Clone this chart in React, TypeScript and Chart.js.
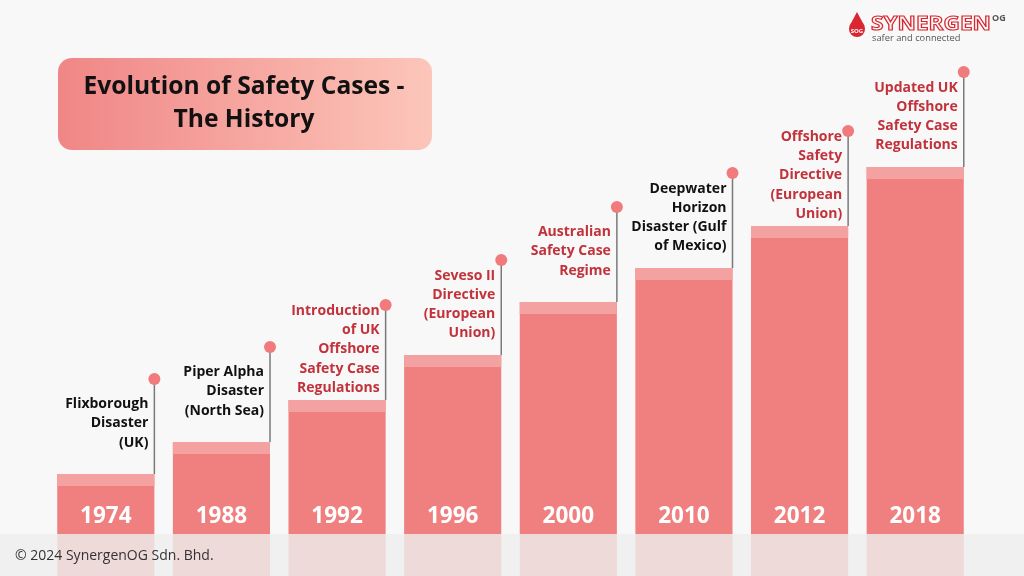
import React, { useEffect, useRef } from "react";
import { Chart, registerables } from "chart.js";

Chart.register(...registerables);

const years = ["1974", "1988", "1992", "1996", "2000", "2010", "2012", "2018"];
const heights = [102, 134, 176, 221, 274, 308, 350, 409];
const eventLines: string[][] = [
  ["Flixborough", "Disaster", "(UK)"],
  ["Piper Alpha", "Disaster", "(North Sea)"],
  ["Introduction", "of UK", "Offshore", "Safety Case", "Regulations"],
  ["Seveso II", "Directive", "(European", "Union)"],
  ["Australian", "Safety Case", "Regime"],
  ["Deepwater", "Horizon", "Disaster (Gulf", "of Mexico)"],
  ["Offshore", "Safety", "Directive", "(European", "Union)"],
  ["Updated UK", "Offshore", "Safety Case", "Regulations"],
];
const eventKinds = ["disaster", "disaster", "regulation", "regulation", "regulation", "disaster", "regulation", "regulation"];
const titleLines = ["Evolution of Safety Cases -", "The History"];
const copyright = "© 2024 SynergenOG Sdn. Bhd.";

const FONT = "'Open Sans', sans-serif";

const decorPlugin = {
  id: "decor",
  beforeDraw(chart: any) {
    const { ctx, width, height } = chart;
    ctx.save();
    ctx.fillStyle = "#f8f8f8";
    ctx.fillRect(0, 0, width, height);
    // title box
    const bx = 58, by = 58, bw = 374, bh = 92, r = 14;
    const g = ctx.createLinearGradient(bx, 0, bx + bw, 0);
    g.addColorStop(0, "#f08686");
    g.addColorStop(1, "#fcc6ba");
    ctx.fillStyle = g;
    ctx.beginPath();
    ctx.roundRect(bx, by, bw, bh, r);
    ctx.fill();
    ctx.fillStyle = "#111";
    ctx.font = `bold 24.6px ${FONT}`;
    ctx.textAlign = "center";
    ctx.textBaseline = "middle";
    ctx.fillText(titleLines[0], 244, 87);
    ctx.fillText(titleLines[1], 244, 120);
    // logo
    ctx.fillStyle = "#d9262f";
    ctx.beginPath();
    ctx.arc(857, 29, 8, 0, Math.PI * 2);
    ctx.fill();
    ctx.beginPath();
    ctx.moveTo(857, 12);
    ctx.lineTo(849.5, 26);
    ctx.lineTo(864.5, 26);
    ctx.closePath();
    ctx.fill();
    ctx.fillStyle = "#ffffff";
    ctx.font = `bold 6px ${FONT}`;
    ctx.textAlign = "center";
    ctx.textBaseline = "middle";
    ctx.fillText("SOG", 857, 31);
    ctx.textAlign = "left";
    ctx.textBaseline = "alphabetic";
    ctx.save();
    ctx.translate(871, 30);
    ctx.scale(1.19, 1);
    ctx.font = `bold 19px ${FONT}`;
    ctx.strokeStyle = "#d9262f";
    ctx.lineWidth = 1.1;
    ctx.strokeText("SYNERGEN", 0, 0);
    ctx.restore();
    ctx.font = `bold 9px ${FONT}`;
    ctx.fillStyle = "#555";
    ctx.fillText("OG", 992, 21);
    ctx.font = `9.3px ${FONT}`;
    ctx.fillStyle = "#555";
    ctx.fillText("safer and connected", 872, 41);
    ctx.restore();
  },
  afterDatasetsDraw(chart: any) {
    const { ctx } = chart;
    const meta = chart.getDatasetMeta(0);
    ctx.save();
    meta.data.forEach((bar: any, i: number) => {
      const w = bar.width;
      const left = bar.x - w / 2;
      const right = bar.x + w / 2;
      const top = bar.y;
      // lighter cap
      ctx.fillStyle = "#f3a1a1";
      ctx.fillRect(left, top, w, 12);
      // year
      ctx.fillStyle = "#ffffff";
      ctx.font = `bold 22.5px ${FONT}`;
      ctx.textAlign = "center";
      ctx.textBaseline = "middle";
      ctx.fillText(years[i], bar.x, 517);
      // pin
      const dotY = top - 95;
      ctx.strokeStyle = "#7a7a7a";
      ctx.lineWidth = 1.5;
      ctx.beginPath();
      ctx.moveTo(right, dotY);
      ctx.lineTo(right, top);
      ctx.stroke();
      ctx.fillStyle = "#f07a7c";
      ctx.beginPath();
      ctx.arc(right, dotY, 6, 0, Math.PI * 2);
      ctx.fill();
      // label
      const lines = eventLines[i];
      const lh = 19.3;
      const center = (dotY + top) / 2 - 3;
      const y0 = center - ((lines.length - 1) * lh) / 2;
      ctx.fillStyle = eventKinds[i] === "disaster" ? "#111111" : "#c2323b";
      ctx.font = `bold 14px ${FONT}`;
      ctx.textAlign = "right";
      lines.forEach((ln, k) => ctx.fillText(ln, right - 6, y0 + k * lh));
    });
    ctx.restore();
  },
  afterDraw(chart: any) {
    const { ctx, width, height } = chart;
    ctx.save();
    ctx.fillStyle = "rgba(238,238,238,0.82)";
    ctx.fillRect(0, 534, width, height - 534);
    ctx.fillStyle = "#333";
    ctx.font = `14px ${FONT}`;
    ctx.textAlign = "left";
    ctx.textBaseline = "middle";
    ctx.fillText(copyright, 15, 556);
    ctx.restore();
  },
};

export default function App() {
  const ref = useRef<HTMLCanvasElement>(null);
  useEffect(() => {
    if (!ref.current) return;
    const chart = new Chart(ref.current, {
      type: "bar",
      data: {
        labels: years,
        datasets: [
          {
            data: heights,
            backgroundColor: "#f07f7f",
            borderWidth: 0,
            barPercentage: 0.84,
            categoryPercentage: 1,
          },
        ],
      },
      options: {
        animation: false,
        responsive: false,
        maintainAspectRatio: false,
        layout: { padding: { left: 48, right: 51, top: 0, bottom: 0 } },
        plugins: { legend: { display: false }, tooltip: { enabled: false }, title: { display: false } },
        scales: {
          x: { display: false },
          y: { display: false, min: 0, max: 576 },
        },
      },
      plugins: [decorPlugin],
    });
    return () => chart.destroy();
  }, []);
  return (
    <div style={{ position: "fixed", left: 0, top: 0, width: 1024, height: 576 }}>
      <canvas ref={ref} width={1024} height={576} style={{ width: 1024, height: 576 }} />
    </div>
  );
}
